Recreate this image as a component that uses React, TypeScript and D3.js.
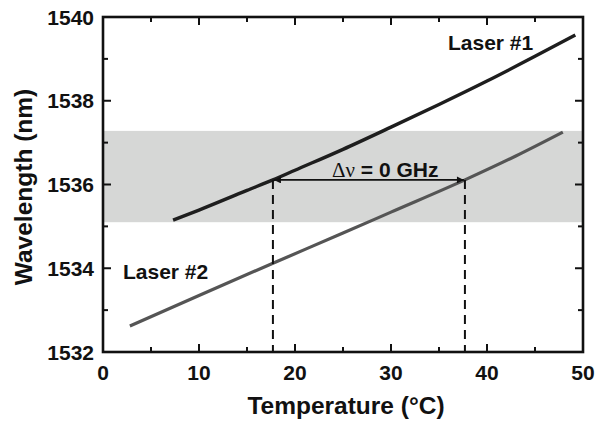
import React from 'react';
import * as d3 from 'd3';

// temperature (°C) vs wavelength (nm)
const laser1T = [7.3, 10, 15, 17.7, 20, 25, 30, 35, 40, 45, 49.2];
const laser1W = [1535.15, 1535.39, 1535.86, 1536.11, 1536.34, 1536.84, 1537.37, 1537.91, 1538.47, 1539.06, 1539.57];
const laser2T = [2.8, 10, 17.7, 25, 30, 37.7, 43, 47.9];
const laser2W = [1532.62, 1533.35, 1534.12, 1534.84, 1535.34, 1536.11, 1536.68, 1537.25];

const bandRange = [1535.1, 1537.28];
const markT = [17.7, 37.7];
const markW = 1536.11;

const xTicks = [0, 10, 20, 30, 40, 50];
const xMinor = [5, 15, 25, 35, 45];
const yTicks = [1532, 1534, 1536, 1538, 1540];
const yMinor = [1533, 1535, 1537, 1539];

const W = 600;
const H = 424;
const margin = { top: 17, right: 17, bottom: 72, left: 103 };
const FONT = '"Liberation Sans", Arial, Helvetica, sans-serif';

export default function App() {
  const ref = React.useRef<SVGSVGElement>(null);

  React.useEffect(() => {
    document.body.style.margin = '0';
    if (!ref.current) return;
    const svg = d3.select(ref.current);
    svg.selectAll('*').remove();

    const x = d3.scaleLinear().domain([0, 50]).range([margin.left, W - margin.right]);
    const y = d3.scaleLinear().domain([1532, 1540]).range([H - margin.bottom, margin.top]);

    // shaded band
    svg.append('rect')
      .attr('x', x(0))
      .attr('y', y(bandRange[1]))
      .attr('width', x(50) - x(0))
      .attr('height', y(bandRange[0]) - y(bandRange[1]))
      .attr('fill', '#d6d7d6');

    const line = d3.line<[number, number]>()
      .x(d => x(d[0]))
      .y(d => y(d[1]))
      .curve(d3.curveMonotoneX);

    svg.append('path')
      .attr('d', line(laser2T.map((t, i) => [t, laser2W[i]])))
      .attr('fill', 'none')
      .attr('stroke', '#555')
      .attr('stroke-width', 3.2);

    svg.append('path')
      .attr('d', line(laser1T.map((t, i) => [t, laser1W[i]])))
      .attr('fill', 'none')
      .attr('stroke', '#1e1e1e')
      .attr('stroke-width', 3.4);

    // dashed drop lines
    markT.forEach(t => {
      svg.append('line')
        .attr('x1', x(t)).attr('x2', x(t))
        .attr('y1', y(markW)).attr('y2', y(1532))
        .attr('stroke', '#111')
        .attr('stroke-width', 2)
        .attr('stroke-dasharray', '9,6');
    });

    // double arrow
    const defs = svg.append('defs');
    defs.append('marker')
      .attr('id', 'arr')
      .attr('viewBox', '0 0 10 10')
      .attr('refX', 10).attr('refY', 5)
      .attr('markerWidth', 12).attr('markerHeight', 7)
      .attr('markerUnits', 'userSpaceOnUse')
      .attr('orient', 'auto-start-reverse')
      .append('path')
      .attr('d', 'M0,0 L10,5 L0,10 z')
      .attr('fill', '#111');

    svg.append('line')
      .attr('x1', x(markT[0]) + 1).attr('x2', x(markT[1]) - 1)
      .attr('y1', y(markW)).attr('y2', y(markW))
      .attr('stroke', '#111')
      .attr('stroke-width', 1.8)
      .attr('marker-start', 'url(#arr)')
      .attr('marker-end', 'url(#arr)');

    const dv = svg.append('text')
      .attr('x', 332).attr('y', y(markW) - 3)
      .attr('font-family', FONT)
      .attr('font-size', 21)
      .attr('fill', '#111');
    dv.append('tspan')
      .attr('font-family', '"Liberation Serif", "DejaVu Serif", serif')
      .attr('font-weight', 'normal')
      .text('Δν');
    dv.append('tspan').attr('font-weight', 'bold').text(' = 0 GHz');

    // labels
    svg.append('text')
      .attr('x', 448).attr('y', 50)
      .attr('font-family', FONT).attr('font-weight', 'bold').attr('font-size', 21)
      .attr('fill', '#111')
      .text('Laser #1');
    svg.append('text')
      .attr('x', 123).attr('y', 279)
      .attr('font-family', FONT).attr('font-weight', 'bold').attr('font-size', 21)
      .attr('fill', '#111')
      .text('Laser #2');

    // frame and ticks
    const g = svg.append('g').attr('stroke', '#111');
    g.append('rect')
      .attr('x', x(0)).attr('y', y(1540))
      .attr('width', x(50) - x(0)).attr('height', y(1532) - y(1540))
      .attr('fill', 'none').attr('stroke-width', 2.6);

    const tick = (vals: number[], len: number) => {
      vals.forEach(v => {
        g.append('line').attr('x1', x(v)).attr('x2', x(v))
          .attr('y1', y(1532)).attr('y2', y(1532) - len).attr('stroke-width', 2);
        g.append('line').attr('x1', x(v)).attr('x2', x(v))
          .attr('y1', y(1540)).attr('y2', y(1540) + len).attr('stroke-width', 2);
      });
    };
    tick(xTicks, 8);
    tick(xMinor, 5);
    const ytick = (vals: number[], len: number) => {
      vals.forEach(v => {
        g.append('line').attr('y1', y(v)).attr('y2', y(v))
          .attr('x1', x(0)).attr('x2', x(0) + len).attr('stroke-width', 2);
        g.append('line').attr('y1', y(v)).attr('y2', y(v))
          .attr('x1', x(50)).attr('x2', x(50) - len).attr('stroke-width', 2);
      });
    };
    ytick(yTicks, 8);
    ytick(yMinor, 5);

    svg.append('g')
      .selectAll('text')
      .data(xTicks)
      .join('text')
      .attr('x', d => x(d))
      .attr('y', y(1532) + 28)
      .attr('text-anchor', 'middle')
      .attr('font-family', FONT).attr('font-weight', 'bold').attr('font-size', 21)
      .attr('fill', '#111')
      .text(d => d);

    svg.append('g')
      .selectAll('text')
      .data(yTicks)
      .join('text')
      .attr('x', x(0) - 9)
      .attr('y', d => y(d) + 7.5)
      .attr('text-anchor', 'end')
      .attr('font-family', FONT).attr('font-weight', 'bold').attr('font-size', 21)
      .attr('fill', '#111')
      .text(d => d);

    svg.append('text')
      .attr('x', 346)
      .attr('y', 414)
      .attr('text-anchor', 'middle')
      .attr('font-family', FONT).attr('font-weight', 'bold').attr('font-size', 24.5)
      .attr('fill', '#111')
      .text('Temperature (°C)');

    svg.append('text')
      .attr('transform', `translate(32,187) rotate(-90)`)
      .attr('text-anchor', 'middle')
      .attr('font-family', FONT).attr('font-weight', 'bold').attr('font-size', 24.5)
      .attr('fill', '#111')
      .text('Wavelength (nm)');
  }, []);

  return <svg ref={ref} width={W} height={H} style={{ display: 'block', background: '#fff' }} />;
}
